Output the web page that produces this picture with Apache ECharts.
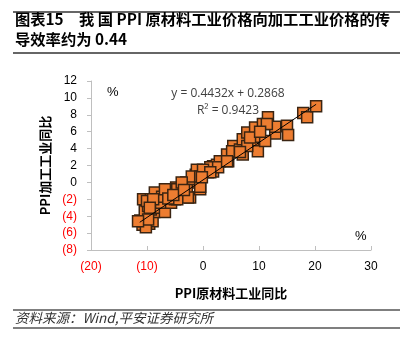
<!DOCTYPE html>
<html><head><meta charset="utf-8">
<script src="https://cdn.jsdelivr.net/npm/echarts@6/dist/echarts.min.js"></script>
<style>html,body{margin:0;padding:0;background:#fff}#c{width:410px;height:352px}</style>
</head><body><div id="c"></div>
<script>
// PPI原材料工业同比 (x) vs PPI加工工业同比 (y), %
const rawX = [-11.2,-10.8,-10.5,-10.0,-9.6,-9.0,-10.2,-8.7,-9.3,-10.4,-9.8,-8.4,-6.8,
  -10.7,-9.3,-9.8,-7.5,-7.1,-5.7,-5.0,-4.8,-3.9,-2.3,-3.0,-1.4,-1.3,-0.5,0.0,-8.6,-10.0,
  -7.3,-5.5,-4.6,-2.9,-2.7,-4.6,-1.8,0.9,1.8,2.5,-1.1,-2.0,-3.8,-0.5,-0.5,1.8,2.5,-6.8,
  -8.9,-9.5,-11.6,-6.2,-5.3,-3.4,1.3,0.0,4.3,
  3.0,4.5,2.7,1.3,-0.2,5.4,5.2,6.6,7.1,7.1,8.9,9.6,7.9,9.3,10.7,11.6,9.8,12.9,12.9,11.4,
  15.0,15.2,17.9,18.6,20.2,11.1,7.9,6.6,4.3,8.4,10.2];
const rawY = [-4.5,-5.0,-4.6,-4.3,-4.9,-4.6,-5.3,-3.5,-3.2,-3.4,-4.4,-3.0,-3.5,
  -2.0,-2.0,-2.8,-2.4,-1.4,-2.4,-2.0,-0.6,-1.7,-1.8,0.0,0.0,0.9,-0.8,1.3,-1.2,-2.2,
  -1.7,-1.2,-0.8,-0.8,-1.8,-2.0,0.4,1.2,1.3,1.9,1.5,0.7,0.0,-0.5,0.7,1.9,2.1,-0.8,
  -2.0,-3.0,-4.6,-1.9,-1.5,-0.9,1.8,1.5,3.3,
  2.5,2.5,1.8,1.2,0.6,4.3,3.7,3.9,3.3,5.1,4.7,5.4,5.9,6.5,6.9,7.7,3.7,5.8,6.6,6.9,
  6.7,5.6,8.2,7.7,9.0,4.9,4.3,3.6,2.5,5.3,6.0];
// linear trend endpoints (y = 0.4432x + 0.2868)
const trendX = [-11.3, 20.2];
const trendY = [-4.72, 9.24];
const xTicks = [-20, -10, 0, 10, 20, 30];
const yTicks = [-8, -6, -4, -2, 0, 2, 4, 6, 8, 10, 12];

const pts = rawX.map((x, i) => [x, rawY[i]]);
const trend = trendX.map((x, i) => [x, trendY[i]]);
const fmt = v => v < 0 ? '{n|(' + Math.abs(v) + ')}' : '{p|' + v + '}';
const lblRich = { n: { color: '#ff0000', fontSize: 12 }, p: { color: '#000', fontSize: 12 } };

const chart = echarts.init(document.getElementById('c'));
chart.setOption({
  animation: false,
  grid: { left: 91, right: 39, top: 81, bottom: 102 },
  xAxis: {
    type: 'value', min: xTicks[0], max: xTicks[xTicks.length - 1], interval: 10,
    name: 'PPI原材料工业同比', nameLocation: 'middle', nameGap: 37,
    nameTextStyle: { fontSize: 13, fontWeight: 'bold', color: '#000', fontFamily: 'Noto Sans CJK SC' },
    axisLine: { onZero: false, lineStyle: { color: '#bfbfbf', width: 1 } },
    axisTick: { show: true, inside: true, length: 4, lineStyle: { color: '#bfbfbf' } },
    axisLabel: { margin: 11, formatter: fmt, rich: lblRich, fontFamily: 'Liberation Sans' },
    splitLine: { show: false }
  },
  yAxis: {
    type: 'value', min: yTicks[0], max: yTicks[yTicks.length - 1], interval: 2,
    name: 'PPI加工工业同比', nameLocation: 'middle', nameGap: 32,
    nameTextStyle: { fontSize: 13, fontWeight: 'bold', color: '#000', fontFamily: 'Noto Sans CJK SC' },
    axisLine: { show: true, onZero: false, lineStyle: { color: '#bfbfbf', width: 1 } },
    axisTick: { show: true, length: 4, lineStyle: { color: '#bfbfbf' } },
    axisLabel: { margin: 14, formatter: fmt, rich: lblRich },
    splitLine: { show: false }
  },
  series: [
    {
      type: 'scatter', data: pts, symbol: 'rect', symbolSize: 11,
      itemStyle: { color: '#ED7D31', borderColor: '#3a2412', borderWidth: 1.5, opacity: 1 },
      z: 2
    },
    {
      type: 'line', data: trend, symbol: 'none',
      lineStyle: { color: '#000', width: 1 }, z: 3
    }
  ],
  graphic: [
    { type: 'line', shape: { x1: 13, y1: 12, x2: 400, y2: 12 }, style: { stroke: '#333', lineWidth: 1.5 } },
    { type: 'line', shape: { x1: 13, y1: 53, x2: 400, y2: 53 }, style: { stroke: '#333', lineWidth: 1.5 } },
    { type: 'text', left: 15, top: 12, style: { text: '图表15　我 国 PPI 原材料工业价格向加工工业价格的传', font: 'bold 15.3px "Noto Sans CJK SC"', fill: '#000' } },
    { type: 'text', left: 15, top: 32, style: { text: '导效率约为 0.44', font: 'bold 15.3px "Noto Sans CJK SC"', fill: '#000' } },
    { type: 'text', left: 107, top: 86, style: { text: '%', font: '13px "Liberation Sans"', fill: '#000' } },
    { type: 'text', left: 355, top: 230, style: { text: '%', font: '13px "Liberation Sans"', fill: '#000' } },
    { type: 'text', x: 228, y: 94, style: { text: 'y = 0.4432x + 0.2868', font: '12px "Open Sans"', fill: '#404040', align: 'center', verticalAlign: 'middle' } },
    { type: 'text', x: 228, y: 111, style: { text: 'R² = 0.9423', font: '12px "Open Sans"', fill: '#404040', align: 'center', verticalAlign: 'middle' } },
    { type: 'line', shape: { x1: 13, y1: 310, x2: 400, y2: 310 }, style: { stroke: '#555', lineWidth: 1.5 } },
    { type: 'line', shape: { x1: 13, y1: 328, x2: 400, y2: 328 }, style: { stroke: '#555', lineWidth: 1.5 } },
    { type: 'text', left: 15, top: 311, style: { text: '资料来源：Wind,平安证券研究所', font: 'italic 13.5px "Noto Sans CJK SC"', fill: '#333' } }
  ]
});
</script></body></html>
